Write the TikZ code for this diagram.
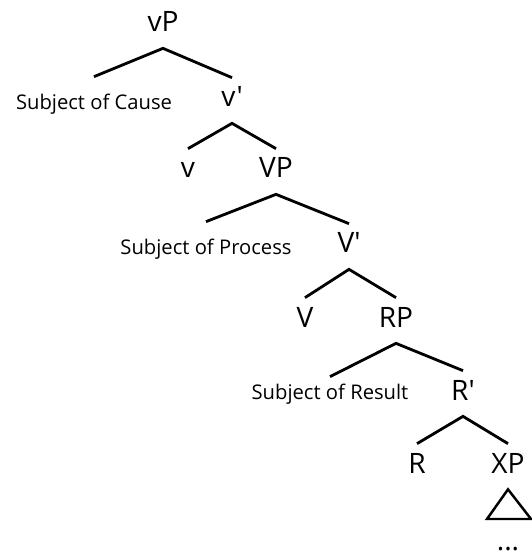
\documentclass[tikz,border=0pt]{standalone}
\usepackage{fontspec}
\setmainfont{Open Sans}[Ligatures=TeXOff]

\begin{document}
\begin{tikzpicture}[
  x=0.02cm, y=-0.02cm,
  cat/.style={font=\fontsize{16}{18}\selectfont, anchor=base, inner xsep=1pt,
    inner ysep=0.18cm, text height=0.4cm, text depth=0.14cm},
  spec/.style={font=\fontsize{11.5}{13}\selectfont, anchor=base, inner xsep=1pt,
    inner ysep=0.36cm, text height=0.3cm, text depth=0cm},
  branch/.style={line width=1.6pt, black},
  roof/.style={line width=1.4pt, black}
]
\useasboundingbox (0,0) rectangle (531,553);

% === vP layer ===
\node[cat] (vP) at (163, 32) {vP};
\node[spec] (cause) at (94, 110) {Subject of Cause};
\node[cat] (vbar) at (232, 107) {v'};
\draw[branch] (cause.north) -- (vP.south) -- (vbar.north);

\node[cat] (v) at (188, 178) {v};
\node[cat] (VP) at (276, 178) {VP};
\draw[branch] (v.north) -- (vbar.south) -- (VP.north);

% === VP layer ===
\node[spec] (process) at (206, 255) {Subject of Process};
\node[cat] (Vbar) at (349, 253) {V'};
\draw[branch] (process.north) -- (VP.south) -- (Vbar.north);

\node[cat] (V) at (305, 327) {V};
\node[cat] (RP) at (396, 327) {RP};
\draw[branch] (V.north) -- (Vbar.south) -- (RP.north);

% === RP layer ===
\node[spec, inner ysep=0.14cm] (result) at (330, 399) {Subject of Result};
\node[cat] (Rbar) at (463, 400) {R'};
\draw[branch] (result.north) -- (RP.south) -- (Rbar.north);

\node[cat] (R) at (417, 473) {R};
\node[cat] (XP) at (508, 473) {XP};
\draw[branch] (R.north) -- (Rbar.south) -- (XP.north);

% Roof over XP
\coordinate (roofL) at (487, 519);
\coordinate (roofR) at (531, 519);
\draw[roof] (XP.south) -- (roofL) -- (roofR) -- cycle;
\node[font=\fontsize{16}{18}\selectfont, anchor=base, inner sep=0pt] (dots) at (508, 550) {...};

\end{tikzpicture}
\end{document}
